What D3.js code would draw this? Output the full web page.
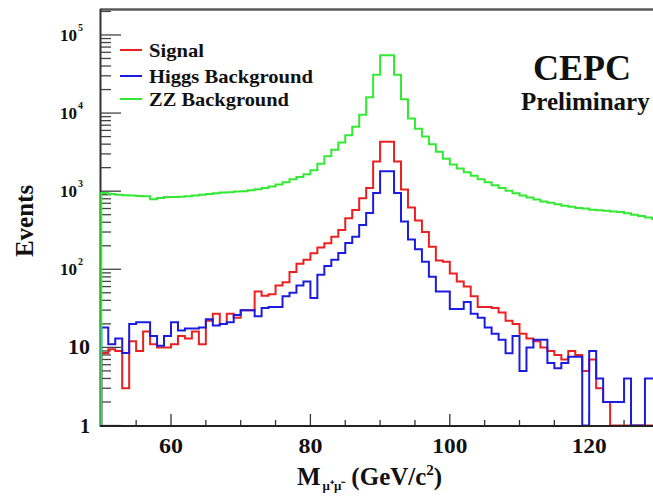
<!DOCTYPE html>
<html><head><meta charset="utf-8">
<script src="https://cdn.jsdelivr.net/npm/d3@7"></script>
<style>
html,body{margin:0;padding:0;background:#fff;overflow:hidden}
svg{display:block}
text{font-family:"Liberation Serif","Times New Roman",serif;font-weight:bold;fill:#111}
</style></head>
<body><svg id="c" width="653" height="499"></svg>
<script>
// bin lower edges (1 GeV bins, 50..129)
const binEdges = d3.range(50, 131, 1);
const signal = [
 8.5, 9.5, 9, 3, 12, 9, 16, 11, 10, 10,
 11, 14, 13, 16, 11, 22, 27, 20, 27, 24,
 30, 30, 52, 46, 48, 62, 68, 92, 118, 132,
 160, 190, 215, 260, 318, 450, 575, 810, 1100, 2400,
 4300, 4300, 2400, 1050, 620, 420, 300, 195, 130, 125,
 88, 70, 60, 45, 33, 33, 32, 28, 22, 20,
 15, 13, 12, 10, 9, 8, 7, 9, 8, 5,
 7, 3, 2, 0, 0, 0, 0, 0, 0, 0];
const higgs = [
 18, 11, 13, 8.5, 20, 21, 21, 14, 10.5, 14,
 21, 16.5, 17.5, 17.5, 18, 23, 19, 20, 21, 26,
 30, 30, 25, 32, 33, 33, 45, 50, 62, 70,
 43, 85, 110, 132, 162, 217, 260, 370, 525, 950,
 1800, 1800, 950, 410, 240, 180, 125, 80, 52, 52,
 31, 31, 38, 27, 24, 18, 15, 12.5, 8.4, 14,
 5, 10, 12.5, 12.5, 6.3, 5.4, 6.3, 7.6, 7.6, 0,
 9, 4, 2, 2, 2, 4, 0, 0, 4, 4];
const zz = [
 950, 920, 900, 890, 880, 870, 860, 790, 820, 840,
 840, 850, 860, 880, 900, 920, 940, 960, 970, 990,
 1000, 1030, 1060, 1100, 1150, 1220, 1300, 1420, 1520, 1650,
 1850, 2250, 2800, 3400, 4200, 5200, 6700, 9500, 16000, 31000,
 55000, 55000, 31000, 15000, 8500, 6300, 5000, 4000, 3200, 2600,
 2200, 1950, 1750, 1580, 1420, 1300, 1190, 1100, 1010, 940,
 880, 830, 780, 740, 710, 680, 650, 630, 610, 600,
 580, 570, 560, 550, 540, 520, 500, 480, 460, 440];
const seriesNames = ["Signal", "Higgs Background", "ZZ Background"];
const seriesColors = ["#ec2020", "#1c1ce0", "#33ea33"];
const xTickLabels = ["60", "80", "100", "120"];
const yDecades = [1, 10, 100, 1000, 10000, 100000];

const svg = d3.select("#c");
const x = d3.scaleLinear().domain([50, 130]).range([101.3, 658.9]);
const y = d3.scaleLog().domain([1, 215000]).range([425.5, 9]);

// frame
svg.append("line").attr("x1", 100).attr("x2", 653).attr("y1", 9.5).attr("y2", 9.5)
  .attr("stroke", "#5a5a5a").attr("stroke-width", 2.5);
svg.append("line").attr("x1", 100.5).attr("x2", 100.5).attr("y1", 9).attr("y2", 426.5)
  .attr("stroke", "#333").attr("stroke-width", 2);

// x ticks
d3.range(55, 130, 5).forEach(v => {
  const major = v % 20 === 0;
  svg.append("line").attr("x1", x(v)).attr("x2", x(v))
    .attr("y1", 426).attr("y2", 426 - (major ? 12 : 6))
    .attr("stroke", "#333").attr("stroke-width", 1.3);
});
const xLabW = {"60": 24, "80": 24, "100": 35, "120": 35};
[60, 80, 100, 120].forEach((v, i) => {
  const s = xTickLabels[i];
  svg.append("text").attr("x", x(v) - xLabW[s] / 2).attr("y", 453)
    .attr("font-size", 20).attr("textLength", xLabW[s]).attr("lengthAdjust", "spacingAndGlyphs")
    .text(s);
});

// y ticks
y.ticks().forEach(v => {
  const lg = Math.log10(v);
  const major = Math.abs(lg - Math.round(lg)) < 1e-9;
  svg.append("line").attr("x1", 101).attr("x2", 101 + (major ? 20 : 10))
    .attr("y1", y(v)).attr("y2", y(v))
    .attr("stroke", "#444").attr("stroke-width", 1.3);
});
yDecades.forEach(v => {
  const e = Math.round(Math.log10(v));
  if (e === 0) {
    svg.append("text").attr("x", 90).attr("y", y(v) + 7).attr("text-anchor", "end")
      .attr("font-size", 20).text("1");
  } else if (e === 1) {
    svg.append("text").attr("x", 68).attr("y", y(v) + 7).attr("font-size", 20)
      .attr("textLength", 22).attr("lengthAdjust", "spacingAndGlyphs").text("10");
  } else {
    const t = svg.append("text").attr("x", 60).attr("y", y(v) + 6).attr("font-size", 17);
    t.append("tspan").text("10");
    t.append("tspan").attr("font-size", 10).attr("dy", -10).attr("dx", 1).text(String(e));
  }
});

// histograms (drawn over the axes)
function stepPath(vals) {
  const p = d3.path();
  p.moveTo(x(binEdges[0]), y(1));
  vals.forEach((v, i) => {
    const yy = y(Math.max(v, 1));
    p.lineTo(x(binEdges[i]), yy);
    p.lineTo(x(binEdges[i + 1]), yy);
  });
  p.lineTo(x(binEdges[binEdges.length - 1]), y(1));
  return p.toString();
}
[signal, higgs, zz].forEach((vals, k) => {
  svg.append("path").attr("d", stepPath(vals))
    .attr("fill", "none").attr("stroke", seriesColors[k])
    .attr("stroke-width", 2).attr("stroke-linejoin", "miter");
});

// bottom axis line
svg.append("line").attr("x1", 100).attr("x2", 653).attr("y1", 426).attr("y2", 426)
  .attr("stroke", "#222").attr("stroke-width", 2);

// axis titles
svg.append("text").attr("transform", "translate(33,221) rotate(-90)")
  .attr("text-anchor", "middle").attr("font-size", 25).text("Events");
const t2 = svg.append("text").attr("x", 297).attr("y", 485).attr("font-size", 25);
t2.append("tspan").text("M");
t2.append("tspan").attr("font-size", 13).attr("dy", 5).attr("dx", 2).text("μ⁺μ⁻");
t2.append("tspan").attr("dy", -5).attr("dx", 6).text("(GeV/c");
t2.append("tspan").attr("font-size", 15).attr("dy", -10).text("2");
t2.append("tspan").attr("dy", 10).text(")");

// legend
const legY = [50, 76, 99];
const legW = [55, 164, 140];
seriesNames.forEach((n, k) => {
  svg.append("line").attr("x1", 120).attr("x2", 142).attr("y1", legY[k]).attr("y2", legY[k])
    .attr("stroke", seriesColors[k]).attr("stroke-width", 2);
  svg.append("text").attr("x", 149).attr("y", legY[k] + 7).attr("font-size", 19.5)
    .attr("textLength", legW[k]).attr("lengthAdjust", "spacingAndGlyphs").text(n);
});

// labels
svg.append("text").attr("x", 533).attr("y", 80).attr("font-size", 36).text("CEPC");
svg.append("text").attr("x", 521).attr("y", 110).attr("font-size", 25).text("Preliminary");
</script></body></html>
